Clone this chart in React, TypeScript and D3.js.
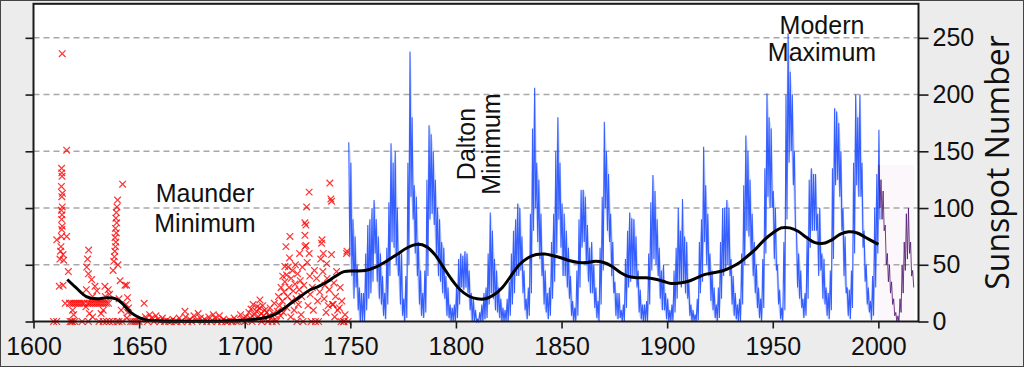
import { useEffect, useRef } from "react";
import * as d3 from "d3";

// axis ticks
const xTicks = [1600, 1650, 1700, 1750, 1800, 1850, 1900, 1950, 2000];
const yTicks = [0, 50, 100, 150, 200, 250];

// monthly sunspot record, yearly envelope (high / low) starting 1749
const blueStart = 1749;
const blueHi = [
  158, 140, 90, 75, 50, 30, 25, 25, 60, 85,
  90, 100, 107, 90, 75, 60, 40, 25, 65, 105,
  157, 140, 150, 100, 60, 60, 20, 40, 140, 238,
  180, 120, 110, 70, 45, 25, 45, 125, 173, 165,
  150, 125, 100, 90, 70, 65, 40, 30, 15, 12,
  15, 30, 55, 60, 58, 62, 60, 45, 25, 20,
  10, 2, 8, 15, 25, 30, 60, 96, 80, 55,
  45, 30, 20, 12, 10, 20, 35, 60, 80, 90,
  104, 100, 75, 45, 20, 30, 95, 170, 206, 140,
  125, 95, 60, 45, 25, 30, 70, 95, 150, 180,
  140, 104, 95, 80, 65, 40, 18, 12, 45, 90,
  116, 116, 110, 85, 65, 70, 50, 30, 18, 65,
  110, 176, 150, 130, 95, 70, 35, 25, 25, 10,
  15, 55, 80, 96, 91, 90, 75, 45, 28, 15,
  15, 18, 60, 105, 129, 115, 90, 65, 45, 50,
  25, 20, 10, 15, 45, 65, 100, 80, 108, 75,
  70, 35, 15, 10, 6, 20, 70, 90, 154, 120,
  95, 60, 45, 30, 15, 30, 70, 100, 100, 107,
  100, 55, 40, 25, 15, 20, 60, 120, 164, 150,
  125, 95, 70, 50, 30, 20, 55, 135, 201, 180,
  170, 115, 100, 50, 28, 12, 70, 200, 254, 220,
  200, 150, 80, 60, 45, 20, 25, 75, 125, 135,
  130, 130, 95, 100, 60, 55, 30, 25, 45, 135,
  188, 185, 175, 150, 100, 75, 30, 28, 45, 140,
  200, 180, 200, 140, 80, 50, 30, 18, 40, 100,
  130, 169,
];
const blueLo = [
  58, 40, 20, 30, 10, 0, 0, 0, 10, 20,
  25, 35, 60, 35, 20, 15, 5, 2, 15, 40,
  70, 65, 50, 40, 15, 5, 0, 3, 50, 110,
  90, 60, 40, 15, 5, 3, 8, 40, 90, 95,
  85, 60, 40, 35, 25, 20, 5, 3, 0, 0,
  0, 3, 15, 30, 28, 30, 25, 10, 0, 0,
  0, 0, 0, 0, 2, 3, 15, 25, 20, 10,
  8, 3, 0, 0, 0, 0, 5, 15, 25, 40,
  40, 45, 25, 10, 2, 5, 25, 80, 100, 70,
  55, 40, 15, 8, 2, 5, 20, 35, 60, 90,
  65, 40, 40, 30, 20, 5, 0, 0, 5, 30,
  65, 70, 50, 35, 25, 25, 12, 3, 0, 15,
  45, 100, 80, 70, 40, 25, 5, 2, 3, 0,
  0, 12, 30, 35, 40, 40, 30, 8, 2, 0,
  0, 0, 15, 45, 55, 50, 40, 20, 10, 10,
  2, 0, 0, 0, 8, 20, 35, 30, 35, 25,
  20, 5, 0, 0, 0, 1, 25, 35, 70, 50,
  40, 18, 10, 3, 0, 3, 20, 40, 45, 50,
  40, 15, 5, 2, 0, 0, 15, 50, 80, 75,
  60, 40, 25, 12, 3, 0, 12, 60, 110, 100,
  100, 55, 45, 15, 2, 0, 10, 90, 140, 150,
  120, 80, 30, 20, 12, 3, 5, 20, 65, 80,
  80, 80, 40, 45, 20, 15, 5, 2, 10, 55,
  120, 125, 110, 80, 40, 25, 5, 2, 12, 60,
  120, 110, 110, 65, 35, 15, 8, 1, 5, 30,
  60, 90,
];

// recent record (2000 on)
const purpleStart = 2000;
const purpleHi = [138, 125, 115, 85, 60, 50, 35, 20, 8, 5, 20, 50, 70, 95, 100, 70, 45];
const purpleLo = [100, 90, 80, 50, 35, 25, 15, 5, 0, 0, 8, 25, 45, 55, 60, 40, 30];

// early telescopic observations [year, value]
const crosses: [number, number][] = [
  [1609.5, 0], [1611, 0], [1611, 72], [1612.2, 31], [1612.5, 55], [1612.8, 62],
  [1613, 66], [1613.2, 75], [1613.4, 81], [1613.6, 84], [1613.3, 90], [1613.5, 94],
  [1613.2, 98], [1613.6, 101], [1613.4, 110], [1613.7, 113], [1613.2, 119],
  [1613.5, 128], [1613.4, 131], [1613.3, 135], [1613.6, 236], [1614, 59], [1614.3, 54],
  [1615.7, 151], [1615.7, 75], [1616.5, 44], [1615, 16], [1614, 32], [1617.3, 0],
  [1618, 0], [1618.5, 0], [1619.6, 0], [1617, 16], [1618, 16], [1619, 16], [1620, 16],
  [1621, 16], [1622, 16], [1623, 16], [1619, 6], [1618.5, 10],
  [1624.8, 13], [1625, 28], [1625.2, 48], [1625.6, 55], [1626.1, 63], [1626, 42],
  [1627.5, 37], [1628, 22], [1629.1, 31], [1630, 27], [1626.5, 7], [1628, 4],
  [1624, 16], [1625.5, 16], [1626.5, 16], [1627.5, 16], [1628.5, 16], [1629.5, 16],
  [1630.5, 16], [1631.5, 16], [1632.5, 16], [1633.5, 16], [1634.5, 16], [1635.5, 16],
  [1632, 7], [1633, 10], [1633.8, 31], [1635.4, 28], [1634, 22], [1636, 24],
  [1623, 0], [1626, 0], [1631, 0], [1633, 0], [1634.5, 0], [1636, 0],
  [1637.7, 45], [1638, 53], [1638.3, 57], [1638.5, 62], [1638.8, 66], [1639, 70],
  [1638.6, 74], [1639.2, 78], [1638.8, 82], [1639.4, 87], [1639, 91], [1639.2, 96],
  [1639.5, 101], [1639.8, 107], [1642.2, 121], [1640, 50], [1641, 36], [1640.5, 20],
  [1641.5, 10], [1637.5, 0], [1639.5, 0], [1640.5, 0], [1642, 0], [1643.3, 32],
  [1644.1, 32], [1644.5, 21], [1643.8, 15], [1644.6, 8], [1644.2, 3], [1645, 12],
  [1646, 0], [1647, 0], [1648, 0], [1649, 0],
  [1650, 0], [1651, 2], [1652.4, 16], [1653, 4], [1654, 0], [1655, 6], [1656, 3],
  [1657, 0], [1658, 5], [1659, 2], [1660, 0], [1661, 3], [1662, 0], [1663, 1],
  [1664, 0], [1665, 0], [1666, 2], [1667, 0], [1668, 0], [1669, 3], [1670, 0],
  [1671.7, 9], [1672, 4], [1673, 0], [1674, 2], [1675, 0], [1676, 5], [1677, 1],
  [1678, 7], [1679, 3], [1680, 0], [1681, 2], [1682, 0], [1683, 4], [1684, 0],
  [1685.1, 6], [1686, 3], [1687, 0], [1688, 5], [1689, 0], [1690, 2], [1691, 0],
  [1692, 0], [1693, 1], [1694, 0], [1695, 3], [1696, 0], [1697, 0], [1698, 6], [1699, 2],
  [1700, 0], [1700.5, 4], [1701, 1], [1702, 8], [1702.5, 3], [1703, 11], [1703.5, 0],
  [1704, 15], [1704.5, 6], [1705, 2], [1705.5, 9], [1706, 13], [1706.5, 4], [1707.1, 12],
  [1707.2, 19], [1707.8, 7], [1708, 0], [1708.5, 14], [1709, 5], [1709.5, 10], [1710, 2],
  [1710.5, 8], [1711, 0], [1711.5, 5], [1712, 12], [1712.5, 3], [1713, 0], [1713.5, 7],
  [1714, 16], [1714.5, 2], [1715, 0],
  [1715.5, 9], [1716, 22], [1716.5, 14], [1717, 5], [1717.2, 30], [1717.8, 18], [1718, 40],
  [1718.3, 8], [1718.6, 26], [1719, 48.5], [1719, 35], [1719.5, 66], [1719.8, 41],
  [1720, 12], [1720.3, 22], [1720.6, 48], [1721, 30], [1721.4, 75], [1721.2, 56],
  [1721.8, 4], [1722, 38], [1722.3, 18], [1722.6, 45], [1723, 27], [1723.4, 10],
  [1723.8, 33], [1724, 50], [1724.3, 20], [1724.7, 0], [1725, 42], [1725.4, 15],
  [1725.8, 28], [1726, 60], [1726.3, 36], [1726.7, 6], [1727, 22], [1727.3, 48],
  [1727.6, 0], [1728, 32], [1728.5, 66], [1728.5, 87], [1728.5, 76], [1729, 85],
  [1729, 67], [1729.3, 101], [1729.6, 52], [1730, 14], [1730.5, 114], [1730.5, 60],
  [1730.8, 40], [1731, 24], [1731.5, 0], [1732, 30], [1732.5, 10], [1733, 45],
  [1733.5, 0], [1734, 38], [1734.5, 18], [1735, 0], [1735.5, 26], [1736, 55],
  [1736.4, 69], [1736.6, 72], [1737, 44], [1737.2, 60], [1737.6, 20], [1738, 32],
  [1738.5, 8], [1738.8, 51], [1739, 38], [1739.5, 14], [1740, 28], [1740.3, 122],
  [1740.8, 108], [1741.1, 106], [1741.1, 59], [1741.5, 15], [1741.9, 15], [1742.2, 34],
  [1742.6, 4], [1743, 22], [1743.5, 44], [1744, 10], [1744.8, 12], [1745.2, 30],
  [1745.6, 0], [1746, 18], [1746.8, 0], [1747.5, 6], [1748.2, 60], [1748.4, 62],
  [1747, 0], [1749, 0],
];

// smoothed trend [year, value]
const trendYears = [
  1616, 1620, 1625, 1630, 1635, 1639, 1642, 1646, 1650, 1654, 1660, 1670, 1680, 1690,
  1700, 1705, 1710, 1715, 1719, 1723, 1727, 1731, 1735, 1739, 1743, 1747, 1752, 1757,
  1762, 1767, 1772, 1777, 1782, 1786, 1790, 1794, 1798, 1802, 1806, 1810, 1814, 1818,
  1822, 1826, 1830, 1834, 1838, 1842, 1846, 1850, 1854, 1858, 1862, 1866, 1870, 1874,
  1878, 1882, 1886, 1890, 1894, 1898, 1902, 1906, 1910, 1914, 1918, 1922, 1926, 1930,
  1934, 1938, 1942, 1946, 1950, 1954, 1958, 1962, 1966, 1970, 1974, 1978, 1982, 1986,
  1990, 1994, 1998, 2000,
];
const trendValues = [
  37, 30, 22, 20, 21, 20, 16, 8, 3.5, 1.2, 0.5, 0.3, 0.3, 0.5,
  1.2, 2, 3.5, 7, 12, 17.6, 23, 28, 31, 35, 40, 44, 44.5, 45,
  48, 53, 59, 65, 68, 66, 59, 48, 37, 28, 22.5, 20, 20, 23.5,
  30, 40, 50, 56, 59, 59.5, 58, 56, 53.5, 52, 52, 53, 52, 48.5,
  43, 39.5, 38.5, 38.5, 37.5, 35.5, 33.5, 34, 35.5, 38.5, 41.5, 43, 44.5, 47.5,
  51.5, 57.5, 64, 72, 78, 82.5, 82.5, 79.5, 74, 69.5, 69, 72, 77, 79,
  78, 74, 70, 68,
];

const W = 1024;
const H = 367;
const LABEL_FONT = "'Liberation Sans', Arial, sans-serif";

export default function App() {
  const svgRef = useRef<SVGSVGElement>(null);

  useEffect(() => {
    if (!svgRef.current) return;
    const svg = d3.select(svgRef.current);
    svg.selectAll("*").remove();

    const x = d3.scaleLinear().domain([1600, 2019]).range([33.5, 918.5]);
    const y = d3.scaleLinear().domain([0, 280]).range([321.5, 3.8]);
    const [x0, x1] = x.range();
    const [yb, yt] = y.range();

    // page + plot backgrounds
    svg.append("rect")
      .attr("x", 0.5).attr("y", 0.5)
      .attr("width", W - 1).attr("height", H - 1)
      .attr("fill", "#ececec")
      .attr("stroke", "#444")
      .attr("stroke-width", 1);

    svg.append("rect")
      .attr("x", x0).attr("y", yt)
      .attr("width", x1 - x0).attr("height", yb - yt)
      .attr("fill", "#fff");

    // faint box behind the recent record
    svg.append("rect")
      .attr("x", x(purpleStart - 0.5))
      .attr("y", y(d3.max(purpleHi)!))
      .attr("width", x(purpleStart + purpleHi.length) - x(purpleStart - 0.5))
      .attr("height", y(0) - y(d3.max(purpleHi)!))
      .attr("fill", "#fbf7fa");

    // dashed grid
    svg.append("g")
      .selectAll("line")
      .data(yTicks.filter((v) => v > 0))
      .join("line")
      .attr("x1", x0).attr("x2", x1)
      .attr("y1", (d) => y(d)).attr("y2", (d) => y(d))
      .attr("stroke", "#a8a8a8")
      .attr("stroke-width", 1.5)
      .attr("stroke-dasharray", "6,4");

    // red crosses
    const s = 3.3;
    svg.append("g")
      .selectAll("path")
      .data(crosses)
      .join("path")
      .attr("d", (d) => {
        const cx = x(d[0]);
        const cy = y(d[1]);
        return `M${cx - s},${cy - s}L${cx + s},${cy + s}M${cx - s},${cy + s}L${cx + s},${cy - s}`;
      })
      .attr("stroke", "#ff0000")
      .attr("stroke-width", 1.2)
      .attr("opacity", 0.8)
      .attr("fill", "none");

    // blue record: pale envelope, then zig-zag between yearly highs and lows
    const blueYears = blueHi.map((_, i) => blueStart + i);
    const band = d3.area<number>()
      .x((d) => x(d + 0.5))
      .y0((_, i) => y(blueLo[i]))
      .y1((_, i) => y(blueHi[i]))
      .curve(d3.curveMonotoneX);
    svg.append("path")
      .attr("d", band(blueYears))
      .attr("fill", "#7f9dff")
      .attr("opacity", 0.35);

    const bluePts: [number, number][] = [];
    blueHi.forEach((h, i) => {
      bluePts.push([blueStart + i + 0.25, h]);
      bluePts.push([blueStart + i + 0.75, blueLo[i]]);
    });
    const line = d3.line<[number, number]>()
      .x((d) => x(d[0]))
      .y((d) => y(d[1]));

    svg.append("path")
      .attr("d", line(bluePts))
      .attr("fill", "none")
      .attr("stroke", "#1a48ff")
      .attr("stroke-width", 1.1)
      .attr("opacity", 0.85);

    const purplePts: [number, number][] = [];
    purpleHi.forEach((h, i) => {
      purplePts.push([purpleStart + i + 0.25, h]);
      purplePts.push([purpleStart + i + 0.75, purpleLo[i]]);
    });
    svg.append("path")
      .attr("d", line(purplePts))
      .attr("fill", "none")
      .attr("stroke", "#561c74")
      .attr("stroke-width", 1)
      .attr("opacity", 0.85);

    // smoothed black trend
    const trend = d3.line<number>()
      .x((_, i) => x(trendYears[i]))
      .y((d) => y(d))
      .curve(d3.curveCatmullRom.alpha(0.5));
    svg.append("path")
      .attr("d", trend(trendValues))
      .attr("fill", "none")
      .attr("stroke", "#000")
      .attr("stroke-width", 3);

    // annotations
    const ann = svg.append("g")
      .attr("font-family", LABEL_FONT)
      .attr("font-size", 25)
      .attr("fill", "#111")
      .attr("text-anchor", "middle");
    ann.append("text").attr("x", 205).attr("y", 201.5).text("Maunder");
    ann.append("text").attr("x", 205).attr("y", 231.5).text("Minimum");
    ann.append("text").attr("transform", "translate(475,144) rotate(-90)").text("Dalton");
    ann.append("text").attr("transform", "translate(500,144) rotate(-90)").text("Minimum");
    ann.append("text").attr("x", 822).attr("y", 34).text("Modern");
    ann.append("text").attr("x", 822).attr("y", 61).text("Maximum");

    // axes
    const styleAxis = (g: d3.Selection<SVGGElement, unknown, null, undefined>) => {
      g.select(".domain").remove();
      g.selectAll(".tick line").attr("stroke", "#1a1a1a").attr("stroke-width", 1.6);
      g.selectAll(".tick text")
        .attr("font-family", LABEL_FONT)
        .attr("font-size", 25)
        .attr("fill", "#111");
    };

    svg.append("g")
      .attr("transform", `translate(0,${yb})`)
      .call(
        d3.axisBottom(x).tickValues(xTicks).tickSize(7).tickPadding(9)
          .tickFormat(d3.format("d")),
      )
      .call(styleAxis);

    svg.append("g")
      .attr("transform", `translate(${x1},0)`)
      .call(d3.axisRight(y).tickValues(yTicks).tickSize(10).tickPadding(4))
      .call(styleAxis);

    svg.append("g")
      .attr("transform", `translate(${x0},0)`)
      .call(d3.axisLeft(y).tickValues(yTicks).tickSize(8).tickFormat(() => ""))
      .call(styleAxis);

    // plot frame
    svg.append("rect")
      .attr("x", x0).attr("y", yt)
      .attr("width", x1 - x0).attr("height", yb - yt)
      .attr("fill", "none")
      .attr("stroke", "#1a1a1a")
      .attr("stroke-width", 2);

    svg.append("text")
      .attr("transform", `translate(1009,162.5) rotate(-90)`)
      .attr("text-anchor", "middle")
      .attr("font-family", "'Open Sans', sans-serif")
      .attr("font-size", 32)
      .attr("fill", "#111")
      .text("Sunspot Number");
  }, []);

  return (
    <svg
      ref={svgRef}
      width={W}
      height={H}
      style={{ position: "absolute", left: 0, top: 0, display: "block" }}
    />
  );
}
